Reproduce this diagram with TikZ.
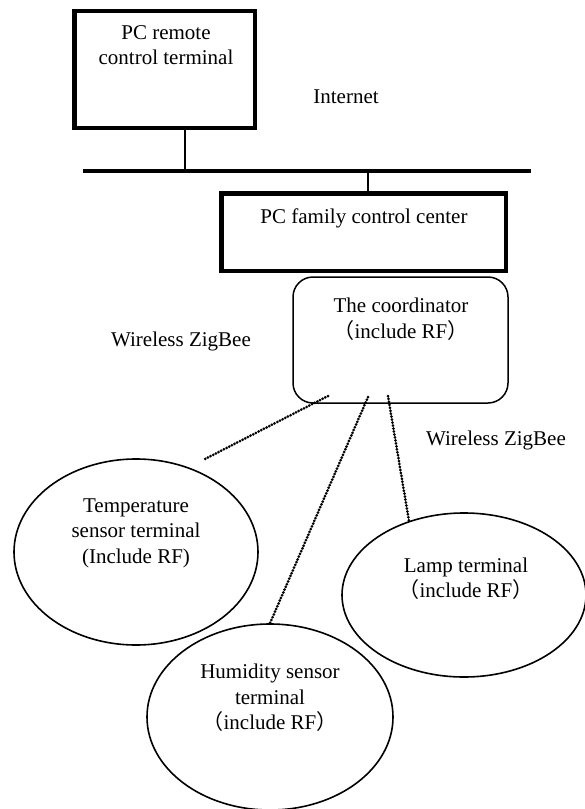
\documentclass[tikz,border=0pt]{standalone}
\usepackage{fontspec}
\setmainfont{Liberation Serif}
\newfontfamily\cjkfont{Noto Sans CJK SC}
\usetikzlibrary{shapes.geometric}
\newcommand\flp{{\cjkfont （}}
\newcommand\frp{{\cjkfont ）}}
\begin{document}
\begin{tikzpicture}[x=1pt,y=-1pt,
  txt/.style={align=center,inner sep=0pt,font=\fontsize{21}{25.5}\selectfont},
  thickbox/.style={draw,line width=4.5pt,rectangle,inner sep=0pt},
  softbox/.style={draw,line width=1.5pt,rectangle,rounded corners=20pt,inner sep=0pt},
  oval/.style={draw,line width=1.6pt,ellipse,inner sep=0pt},
  wire/.style={line width=2.2pt},
  buswire/.style={line width=4.5pt},
  radio/.style={line width=3pt,dash pattern=on 0pt off 3pt,line cap=round}]
\useasboundingbox (0,0) rectangle (584,809);
% PC remote control terminal
\node[thickbox,minimum width=180.5pt,minimum height=117pt] (remote) at (164.5,69.5) {};
\node[txt] (remotet) at (166,45) {PC remote\\control terminal};
\node[txt] (internet) at (346,97) {Internet};
% bus
\coordinate (busl) at (83,171);
\coordinate (busr) at (531,171);
\draw[buswire] (busl) -- (busr);
\coordinate (bus1) at (185,171);
\coordinate (bus2) at (368,171);
\draw[wire] (remote.south -| bus1) -- (bus1);
% PC family control center
\node[thickbox,minimum width=284.5pt,minimum height=77.5pt] (family) at (363.5,232) {};
\node[txt] (familyt) at (364,218) {PC family control center};
\draw[wire] (bus2) -- (family.north -| bus2);
% coordinator
\node[softbox,minimum width=215pt,minimum height=126pt] (coord) at (400.5,340) {};
\node[txt] (coordt) at (401,319) {The coordinator\\\flp include RF\frp};
\node[txt] (zbl) at (181,341) {Wireless ZigBee};
\node[txt] (zbr) at (496,440) {Wireless ZigBee};
% terminals
\node[oval,minimum width=244pt,minimum height=186pt] (temp) at (136,552) {};
\node[txt] (tempt) at (136,533) {Temperature\\sensor terminal\\(Include RF)};
\node[oval,minimum width=244pt,minimum height=164pt] (lamp) at (464,595) {};
\node[txt] (lampt) at (466,578.5) {Lamp terminal\\\flp include RF\frp};
\node[oval,minimum width=246pt,minimum height=186pt] (hum) at (270,717) {};
\node[txt] (humt) at (270,698) {Humidity sensor\\terminal\\\flp include RF\frp};
% wireless links
\coordinate (l1s) at (328,396);
\coordinate (l1e) at (205,459);
\coordinate (l2s) at (368,397);
\coordinate (l3s) at (388,396);
\coordinate (l3e) at (409,521);
\draw[radio] (l1s) -- (l1e);
\draw[radio] (l2s) -- (hum.north);
\draw[radio] (l3s) -- (l3e);
\end{tikzpicture}
\end{document}
